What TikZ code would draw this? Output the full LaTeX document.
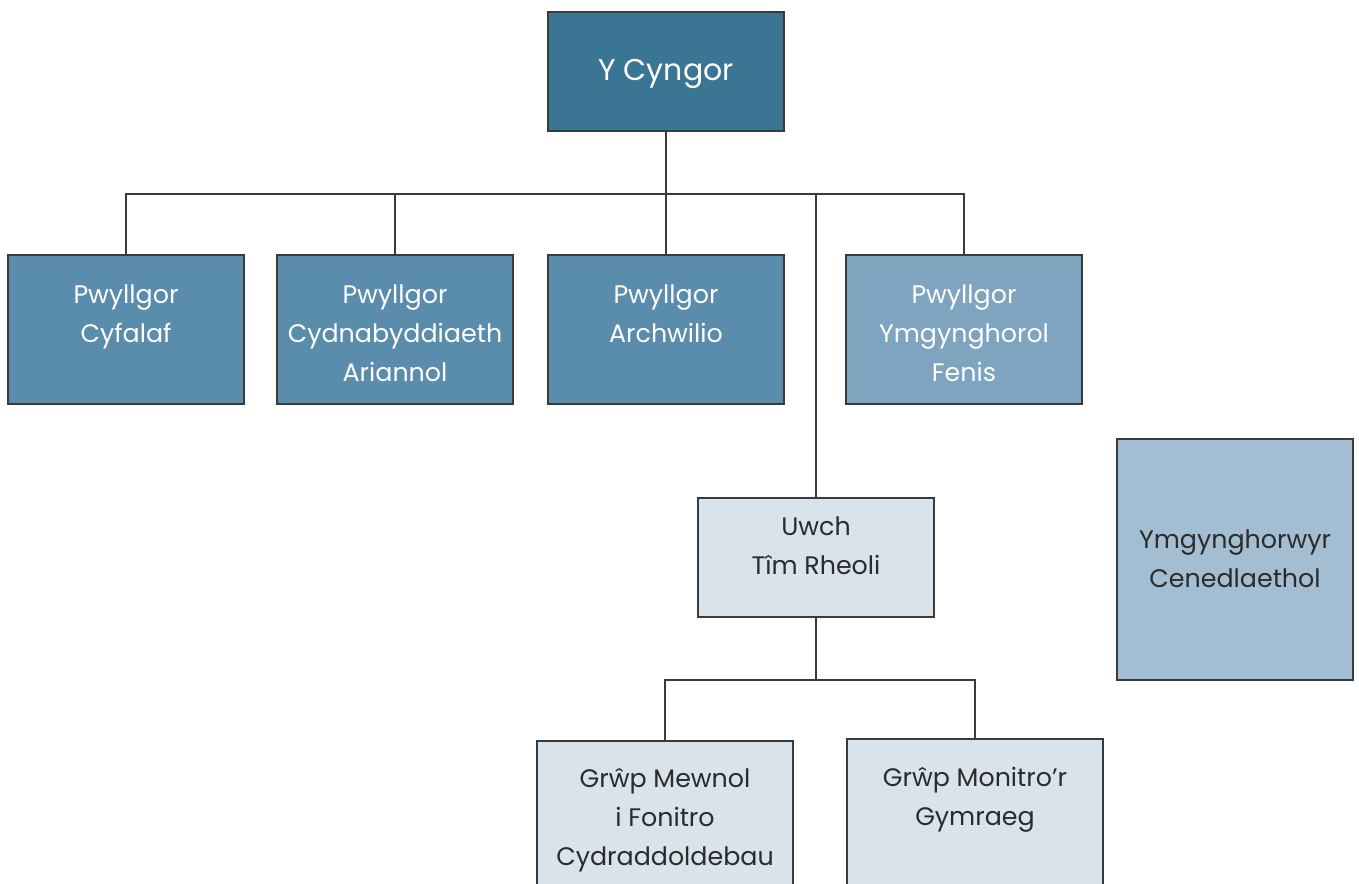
\documentclass[tikz,border=0pt]{standalone}
\usepackage{fontspec}
\setmainfont{Poppins}
\definecolor{cyngorc}{HTML}{3A7594}
\definecolor{pwc}{HTML}{5A8CAC}
\definecolor{fenisc}{HTML}{7EA4BF}
\definecolor{lightc}{HTML}{D8E3EB}
\definecolor{natlc}{HTML}{A3BDD2}
\definecolor{darktxt}{HTML}{2B2B2B}
\definecolor{edgec}{HTML}{3A3A3A}
\tikzset{
  box/.style={draw=edgec, line width=1pt, rectangle, anchor=north west, inner sep=0pt, outer sep=0pt},
  stdbox/.style={box, minimum width=177pt, minimum height=111.75pt},
  txt/.style={align=center, font=\fontsize{19}{29.3}\selectfont, inner sep=0pt},
  wtxt/.style={txt, text=white},
  dtxt/.style={txt, text=darktxt},
  conn/.style={draw=edgec, line width=1pt}
}
\begin{document}
\begin{tikzpicture}[x=0.75pt,y=-0.75pt]
\useasboundingbox (0,0) rectangle (1359,883);
\clip (0,0) rectangle (1359,883);
\fill[white] (0,0) rectangle (1359,883);
% boxes
\node[box, fill=cyngorc, minimum width=177pt, minimum height=89.25pt] (cyngor) at (548,12) {};
\node[stdbox, fill=pwc] (p1) at (8,255) {};
\node[stdbox, fill=pwc] (p2) at (277,255) {};
\node[stdbox, fill=pwc] (p3) at (548,255) {};
\node[stdbox, fill=fenisc] (p4) at (846,255) {};
\node[box, fill=lightc, minimum width=177pt, minimum height=89.25pt] (uwch) at (698,498) {};
\node[box, fill=lightc, minimum width=192pt, minimum height=120pt] (g1) at (537,741) {};
\node[box, fill=lightc, minimum width=192pt, minimum height=120pt] (g2) at (847,739) {};
\node[box, fill=natlc, minimum width=177pt, minimum height=180.75pt] (natl) at (1117,439) {};
% texts
\node[wtxt, font=\fontsize{22.5}{29.3}\selectfont] (t0) at (666,74) {Y Cyngor};
\node[wtxt] (t1) at (126,316.5) {Pwyllgor\\Cyfalaf};
\node[wtxt] (t2) at (395,333) {Pwyllgor\\Cydnabyddiaeth\\Ariannol};
\node[wtxt] (t3) at (666,313.5) {Pwyllgor\\Archwilio};
\node[wtxt] (t4) at (964,333) {Pwyllgor\\Ymgynghorol\\Fenis};
\node[dtxt] (t5) at (816,546) {Uwch\\Tîm Rheoli};
\node[dtxt] (t6) at (1235,559) {Ymgynghorwyr\\Cenedlaethol};
\node[dtxt] (t7) at (665,820) {Grŵp Mewnol\\i Fonitro\\Cydraddoldebau};
\node[dtxt] (t8) at (975,800) {Grŵp Monitro’r\\Gymraeg};
% connectors
\coordinate (bus) at (666,194);
\coordinate (bus2) at (816,680);
\draw[conn] (p1.north) -- (p1.north |- bus) -- (p4.north |- bus) -- (p4.north);
\draw[conn] (p2.north) -- (p2.north |- bus);
\draw[conn] (cyngor.south) -- (p3.north);
\draw[conn] (uwch.north) -- (uwch.north |- bus);
\draw[conn] (uwch.south) -- (bus2);
\draw[conn] (g1.north) |- (bus2) -| (g2.north);
\end{tikzpicture}
\end{document}
